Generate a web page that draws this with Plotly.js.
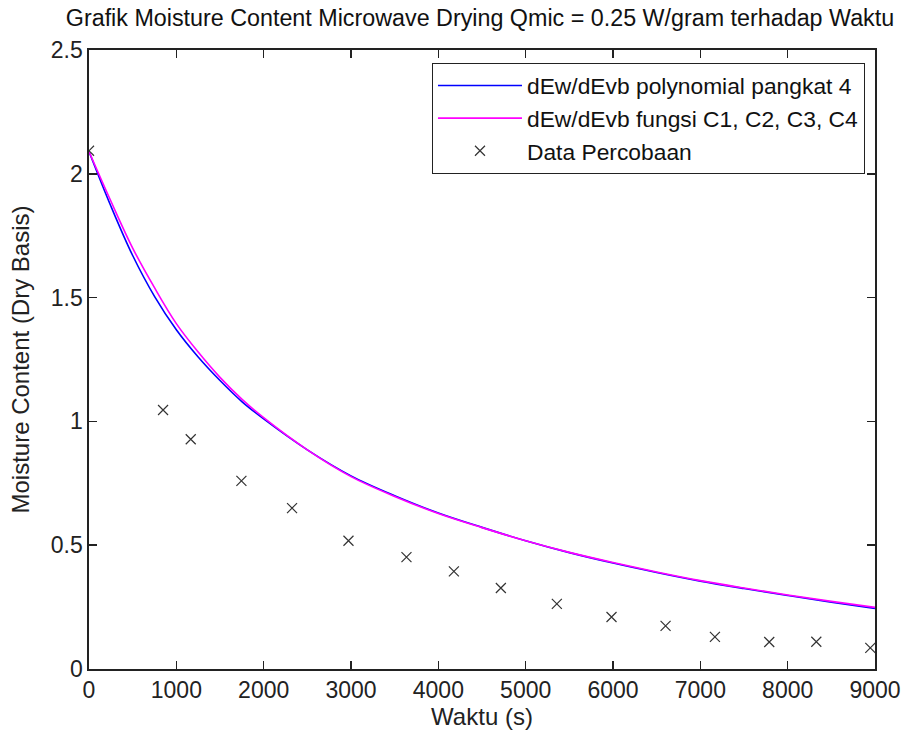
<!DOCTYPE html>
<html>
<head>
<meta charset="utf-8">
<script src="https://cdn.plot.ly/plotly-3.0.1.min.js"></script>
<style>html,body{margin:0;padding:0;background:#fff;}#chart{width:901px;height:731px;}</style>
</head>
<body>
<div id="chart"></div>
<script>
// Model curves (time in seconds)
const waktu = [0, 250, 500, 750, 1000, 1250, 1500, 1750, 2000, 2500, 3000, 3500, 4000, 4500, 5000, 5500, 6000, 6500, 7000, 7500, 8000, 8500, 9000];
const mcPolynomial = [2.09, 1.87, 1.67, 1.505, 1.37, 1.26, 1.165, 1.08, 1.01, 0.885, 0.78, 0.70, 0.63, 0.572, 0.518, 0.47, 0.428, 0.39, 0.355, 0.325, 0.297, 0.27, 0.245];
const mcFungsi = [2.09, 1.89, 1.70, 1.54, 1.395, 1.28, 1.178, 1.09, 1.015, 0.885, 0.777, 0.697, 0.628, 0.571, 0.518, 0.471, 0.43, 0.392, 0.357, 0.327, 0.299, 0.273, 0.249];
// Experimental data
const waktuData = [0, 848, 1165, 1745, 2325, 2971, 3635, 4178, 4716, 5357, 5983, 6602, 7167, 7789, 8328, 8946];
const mcData = [2.093, 1.046, 0.928, 0.760, 0.650, 0.518, 0.452, 0.394, 0.327, 0.263, 0.210, 0.174, 0.130, 0.109, 0.110, 0.085];
const xTicks = [0, 1000, 2000, 3000, 4000, 5000, 6000, 7000, 8000, 9000];
const yTicks = [0, 0.5, 1, 1.5, 2, 2.5];

const FONT = 'Liberation Sans, Arial, sans-serif';
const traces = [
  {x: waktu, y: mcPolynomial, mode: 'lines', name: 'dEw/dEvb polynomial pangkat 4',
   line: {color: '#0000ff', width: 1.6, shape: 'spline'}},
  {x: waktu, y: mcFungsi, mode: 'lines', name: 'dEw/dEvb fungsi C1, C2, C3, C4',
   line: {color: '#ff00ff', width: 1.6, shape: 'spline'}},
  {x: waktuData, y: mcData, mode: 'markers', name: 'Data Percobaan',
   marker: {symbol: 'x-thin-open', size: 10, color: '#333', line: {color: '#333', width: 1.2}}}
];
const axisCommon = {
  showgrid: false, zeroline: false, showline: true, linecolor: '#222', linewidth: 1.6,
  mirror: 'ticks', ticks: 'inside', ticklen: 8, tickwidth: 1.6, tickcolor: '#222',
  tickfont: {family: FONT, size: 23, color: '#222'}
};
const layout = {
  width: 901, height: 731,
  margin: {l: 89, r: 26, t: 50, b: 62},
  paper_bgcolor: '#fff', plot_bgcolor: '#fff',
  title: {text: 'Grafik Moisture Content Microwave Drying Qmic = 0.25 W/gram terhadap Waktu',
          font: {family: FONT, size: 23.3, color: '#111'}, x: 480 / 901, xanchor: 'center', y: 0.975, yanchor: 'middle'},
  xaxis: Object.assign({}, axisCommon, {range: [0, 9000], tickvals: xTicks, ticktext: xTicks.map(String),
    title: {text: 'Waktu (s)', font: {family: FONT, size: 24, color: '#222'}, standoff: 2}}),
  yaxis: Object.assign({}, axisCommon, {range: [0, 2.5], tickvals: yTicks, ticktext: yTicks.map(String),
    title: {text: 'Moisture Content (Dry Basis)', font: {family: FONT, size: 24, color: '#222'}, standoff: 14}}),
  legend: {x: 0.987, xanchor: 'right', y: 0.979, yanchor: 'top', bgcolor: '#fff',
    bordercolor: '#222', borderwidth: 1.2, font: {family: FONT, size: 22.8, color: '#111'},
    tracegroupgap: 0, itemwidth: 84},
  showlegend: true
};
Plotly.newPlot('chart', traces, layout, {displayModeBar: false, staticPlot: true});
</script>
</body>
</html>
